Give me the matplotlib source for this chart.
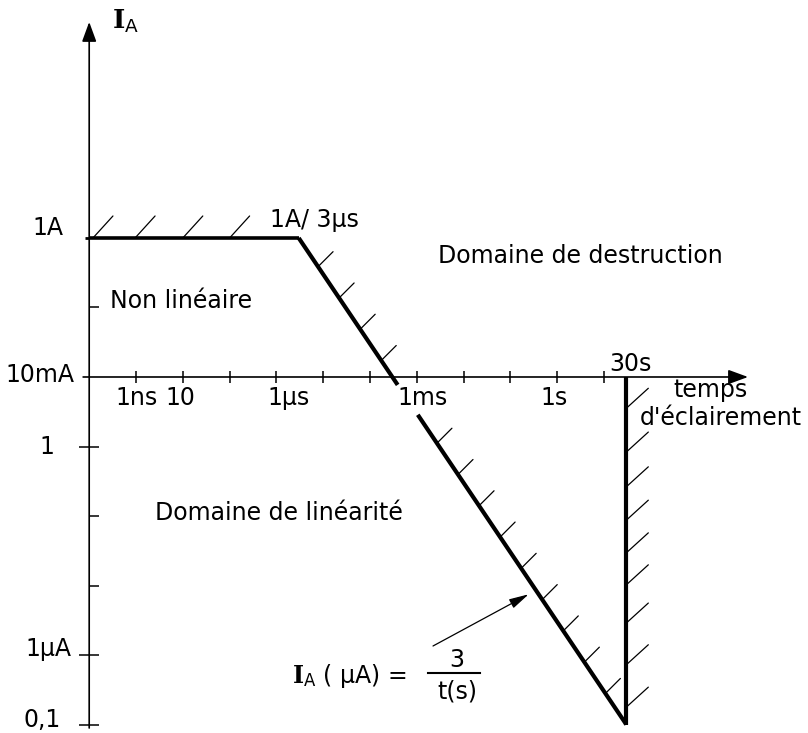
import matplotlib
matplotlib.use("Agg")
import matplotlib.pyplot as plt

# Limite de destruction : palier a 1A jusqu'a 3us, puis I_A(uA) = 3 / t(s) jusqu'a 30s
t_plateau = [1e-10, 3e-6]
I_plateau = [1.0, 1.0]

# droite 3/t, interrompue au passage de l'axe (etiquette 1ms)
t_slope_hi = [3e-6, 3.9e-4]
I_slope_hi = [1.0, 7.7e-3]
t_slope_lo = [1.05e-3, 30.0]
I_slope_lo = [2.86e-3, 1e-7]

t_wall = [30.0, 30.0]
I_wall = [1e-2, 1e-7]

# graduations
x_ticks = [1e-9, 1e-8, 1e-7, 1e-6, 1e-5, 1e-4, 1e-3, 1e-2, 1e-1, 1.0, 10.0]
x_labels = ["1ns", "10", "1µs", "1ms", "1s"]
x_label_pos = [1e-9, 1e-8, 1e-6, 1e-3, 1.0]
y_ticks_both = [1e-3, 1e-6, 1e-7]
y_ticks_right = [1e-1, 1e-4, 1e-5]
y_labels = ["1A", "10mA", "1", "1µA", "0,1"]
y_label_pos = [1.0, 1e-2, 1e-3, 1e-6, 1e-7]

T0 = 1e-10   # position de l'axe vertical
I0 = 1e-2    # position de l'axe horizontal

W, H = 808, 733
fig = plt.figure(figsize=(W / 100, H / 100), dpi=100)
ax = fig.add_axes([0, 0, 1, 1])
ax.set_xscale("log")
ax.set_yscale("log")
ax.set_xlim(10 ** -11.906, 10 ** 5.359)
ax.set_ylim(10 ** -7.122, 10 ** 3.424)
ax.axis("off")

plt.rcParams["mathtext.fontset"] = "dejavuserif"
FS = 17


def px(x, y):
    # pixels (origine en haut a gauche) -> fraction de figure
    return x / W, 1 - y / H


def label(x, y, s, size=FS, **kw):
    fig.text(*px(x, y), s, fontsize=size, family="DejaVu Sans", va="baseline", **kw)


arrow = dict(arrowstyle="-|>,head_length=0.6,head_width=0.22", mutation_scale=20,
             lw=1.2, color="black", shrinkA=0, shrinkB=0)

# axes
ax.annotate("", xy=(T0, 10 ** 3.108), xytext=(T0, 10 ** -7.05), arrowprops=arrow)
ax.annotate("", xy=(10 ** 4.077, I0), xytext=(10 ** -10.13, I0), arrowprops=arrow)

ax.plot(x_ticks, [I0] * len(x_ticks), ls="none", marker="|", ms=9, mew=1.1, color="black")
ax.plot([T0] * len(y_ticks_both), y_ticks_both, ls="none", marker="_", ms=14, mew=1.1, color="black")
ax.plot([T0] * len(y_ticks_right), y_ticks_right, ls="none", marker=1, ms=7, mew=1.1, color="black")
ax.plot([T0], [1.0], ls="none", marker=0, ms=3, mew=2, color="black")

# courbe limite
lw = 3.0
ax.plot(t_plateau, I_plateau, color="black", lw=2.6, solid_capstyle="butt")
ax.plot(t_slope_hi, I_slope_hi, color="black", lw=lw, solid_capstyle="butt")
ax.plot(t_slope_lo, I_slope_lo, color="black", lw=lw, solid_capstyle="butt")
ax.plot(t_wall, I_wall, color="black", lw=lw, solid_capstyle="butt")


def hatch(t, I, dx, dy):
    ax.annotate("", xy=(t, I), xytext=(dx, dy), textcoords="offset pixels",
                arrowprops=dict(arrowstyle="-", lw=0.9, color="black", shrinkA=0, shrinkB=0))


# hachures cote destruction
for lt in [-9.92, -9.02, -8.0, -7.0]:
    hatch(10 ** lt, 1.0, 20, 22)
for lt in [-5.11, -4.66, -4.21, -3.76, -2.57, -2.12, -1.67, -1.22, -0.77, -0.32, 0.13, 0.58, 1.03]:
    hatch(10 ** lt, 3e-6 / 10 ** lt, 15, 15)
for lI in [-2.45, -3.08, -3.58, -4.06, -4.53, -4.99, -5.54, -6.14, -6.75]:
    hatch(30.0, 10 ** lI, 22, 20)

# etiquettes des axes
for s, t in zip(x_labels, x_label_pos):
    dx = {"1µs": 12, "1ms": 6, "10": -2, "1s": -3}.get(s, 1)
    ax.annotate(s, xy=(t, I0), xytext=(dx, -28), textcoords="offset pixels",
                ha="center", va="baseline", fontsize=17, family="DejaVu Sans")
for s, I in zip(y_labels, y_label_pos):
    dy = {"1A": 3, "10mA": -5, "1": -7, "1µA": -1, "0,1": -2}[s]
    dx = {"1A": -26, "10mA": -15, "1": -35, "1µA": -18, "0,1": -28}[s]
    ax.annotate(s, xy=(T0, I), xytext=(dx, dy), textcoords="offset pixels",
                ha="right", va="baseline", fontsize=17, family="DejaVu Sans")
ax.annotate("30s", xy=(30.0, I0), xytext=(4, 6), textcoords="offset pixels",
            ha="center", va="baseline", fontsize=17, family="DejaVu Sans")

label(112, 29, r"$\mathbf{I}_{\mathsf{A}}$", size=19)
label(673, 397, "temps")
label(640, 425, "d'éclairement")

# zones
label(270, 227, "1A/ 3µs")
label(438, 263, "Domaine de destruction")
label(110, 308, "Non linéaire")
label(155, 520, "Domaine de linéarité")

# loi de la droite
label(292, 683, r"$\mathbf{I}_{\mathsf{A}}$ ( µA) =")
label(457, 667, "3", ha="center")
label(457, 698, "t(s)", ha="center")
fig.add_artist(plt.Line2D([428 / W, 480 / W], [1 - 673 / H, 1 - 673 / H], color="black", lw=1.5))
ax.annotate("", xy=(0.352, 3e-6 / 0.352), xytext=(433, H - 646), textcoords="figure pixels",
            arrowprops=dict(arrowstyle="-|>,head_length=0.8,head_width=0.2", mutation_scale=15,
                            lw=0.9, color="black", shrinkA=0, shrinkB=6))

fig.savefig("out.png", dpi=100)
